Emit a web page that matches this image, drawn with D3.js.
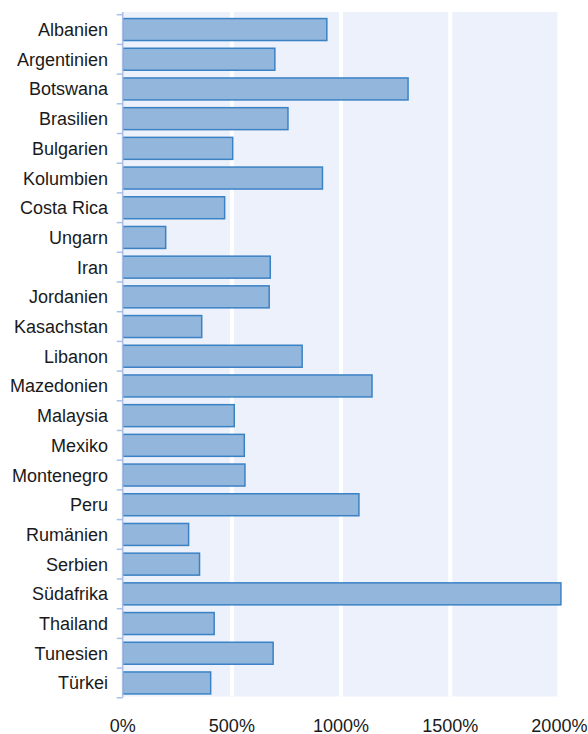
<!DOCTYPE html>
<html><head><meta charset="utf-8">
<script src="https://cdn.jsdelivr.net/npm/d3@7"></script>
<style>body{margin:0;background:#fff}svg{display:block}</style>
</head><body>
<script>
const categories = ["Albanien","Argentinien","Botswana","Brasilien","Bulgarien","Kolumbien","Costa Rica","Ungarn","Iran","Jordanien","Kasachstan","Libanon","Mazedonien","Malaysia","Mexiko","Montenegro","Peru","Rumänien","Serbien","Südafrika","Thailand","Tunesien","Türkei"];
const values = [928,690,1300,750,497,908,460,190,669,664,355,815,1135,504,550,553,1075,295,345,2000,412,682,396];
const xTicks = [0,500,1000,1500,2000];

const W=588,H=734;
const svg=d3.select("body").append("svg").attr("width",W).attr("height",H);
const x=d3.scaleLinear().domain([0,2000]).range([122.7,559.4]);
const y=d3.scaleBand().domain(categories).range([14.7,697.8]).paddingInner(0.26).paddingOuter(0.13);
const font="'Liberation Sans', Arial, sans-serif";

svg.append("rect").attr("x",x(0)).attr("y",12).attr("width",x(2000)-x(0)).attr("height",684.5).attr("fill","#edf1fb");
svg.append("g").selectAll("line").data(xTicks.slice(1)).join("line")
  .attr("x1",d=>x(d)).attr("x2",d=>x(d)).attr("y1",12).attr("y2",696.5)
  .attr("stroke","#fff").attr("stroke-width",4);

const data=categories.map((c,i)=>({c,v:values[i]}));
svg.append("g").selectAll("rect").data(data).join("rect")
  .attr("x",x(0)).attr("y",d=>y(d.c)).attr("width",d=>x(d.v)-x(0)+1.5).attr("height",y.bandwidth())
  .attr("fill","#92b6dc").attr("stroke","#3b82c4").attr("stroke-width",1.5);

// y axis
const step=y.step();
const boundaries=d3.range(categories.length+1).map(i=>14.7+i*(697.8-14.7)/categories.length);
svg.append("line").attr("x1",x(0)).attr("x2",x(0)).attr("y1",12).attr("y2",697.5).attr("stroke","#a9bfe6").attr("stroke-width",1.5);
svg.append("g").selectAll("line").data(boundaries).join("line")
  .attr("x1",116.7).attr("x2",x(0)).attr("y1",d=>d).attr("y2",d=>d)
  .attr("stroke","#a9bfe6").attr("stroke-width",1.5);
svg.append("g").selectAll("text").data(categories).join("text")
  .attr("x",108).attr("y",d=>y(d)+y.bandwidth()/2).attr("dy","0.36em")
  .attr("text-anchor","end").attr("font-family",font).attr("font-size",18).attr("fill","#1a1a1a").text(d=>d);

// x axis labels
svg.append("g").selectAll("text").data(xTicks).join("text")
  .attr("x",d=>x(d)).attr("y",731.5).attr("text-anchor","middle")
  .attr("font-family",font).attr("font-size",18).attr("fill","#1a1a1a").text(d=>d+"%");
</script>
</body></html>
